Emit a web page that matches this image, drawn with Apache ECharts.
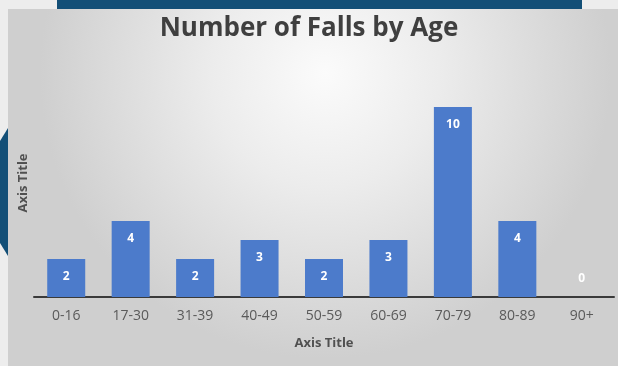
<!DOCTYPE html>
<html>
<head>
<meta charset="utf-8">
<script src="https://cdn.jsdelivr.net/npm/echarts@6/dist/echarts.min.js"></script>
<style>
html,body{margin:0;padding:0;background:#ededed;}
#chart{width:618px;height:366px;}
</style>
</head>
<body>
<div id="chart"></div>
<script>
const categories = ['0-16','17-30','31-39','40-49','50-59','60-69','70-79','80-89','90+'];
const falls = [2, 4, 2, 3, 2, 3, 10, 4, 0];
const titleText = 'Number of Falls by Age';
const xAxisTitle = 'Axis Title';
const yAxisTitle = 'Axis Title';

const chart = echarts.init(document.getElementById('chart'));
const font = '"Open Sans", "Noto Sans", sans-serif';

const seriesData = falls.map(v => v === 0
  ? { value: v, label: { position: 'top', distance: 12 } }
  : v);

chart.setOption({
  animation: false,
  backgroundColor: '#ededed',
  graphic: [
    { type: 'polygon', z: -10, shape: { points: [[8,128],[0,141],[0,243],[8,256]] }, style: { fill: '#134f77' } },
    { type: 'rect', z: -10, shape: { x: 57, y: 0, width: 525, height: 10 }, style: { fill: '#134f77' } },
    { type: 'rect', z: -9, shape: { x: 8, y: 9, width: 610, height: 357 },
      style: { fill: new echarts.graphic.RadialGradient(0.52, 0.18, 0.8, [
        { offset: 0, color: '#fbfbfb' },
        { offset: 0.4, color: '#ececec' },
        { offset: 1, color: '#cfcfcf' }
      ]) } }
  ],
  title: {
    text: titleText,
    left: 'center',
    top: 11,
    textStyle: { fontFamily: font, fontSize: 26, fontWeight: 'bold', color: '#3f3f3f' }
  },
  grid: { left: 34, right: 4, top: 69, bottom: 69, containLabel: false },
  xAxis: {
    type: 'category',
    data: categories,
    boundaryGap: true,
    name: xAxisTitle,
    nameLocation: 'middle',
    nameGap: 40,
    nameTextStyle: { fontFamily: font, fontSize: 13, fontWeight: 'bold', color: '#505050' },
    axisLine: { lineStyle: { color: '#3a3a3a', width: 2 } },
    axisTick: { show: false },
    axisLabel: { margin: 12, fontFamily: font, fontSize: 14, color: '#5a5a5a' }
  },
  yAxis: {
    type: 'value',
    min: 0,
    max: 12,
    name: yAxisTitle,
    nameLocation: 'middle',
    nameGap: 4,
    nameRotate: 90,
    nameTextStyle: { fontFamily: font, fontSize: 13, fontWeight: 'bold', color: '#505050' },
    axisLine: { show: false },
    axisTick: { show: false },
    axisLabel: { show: false },
    splitLine: { show: false }
  },
  series: [{
    type: 'bar',
    data: seriesData,
    barWidth: 38,
    itemStyle: { color: '#4c7bcb' },
    label: {
      show: true,
      position: 'insideTop',
      distance: 12,
      fontFamily: font,
      fontSize: 12,
      fontWeight: 'bold',
      color: '#ffffff'
    }
  }]
});
</script>
</body>
</html>
